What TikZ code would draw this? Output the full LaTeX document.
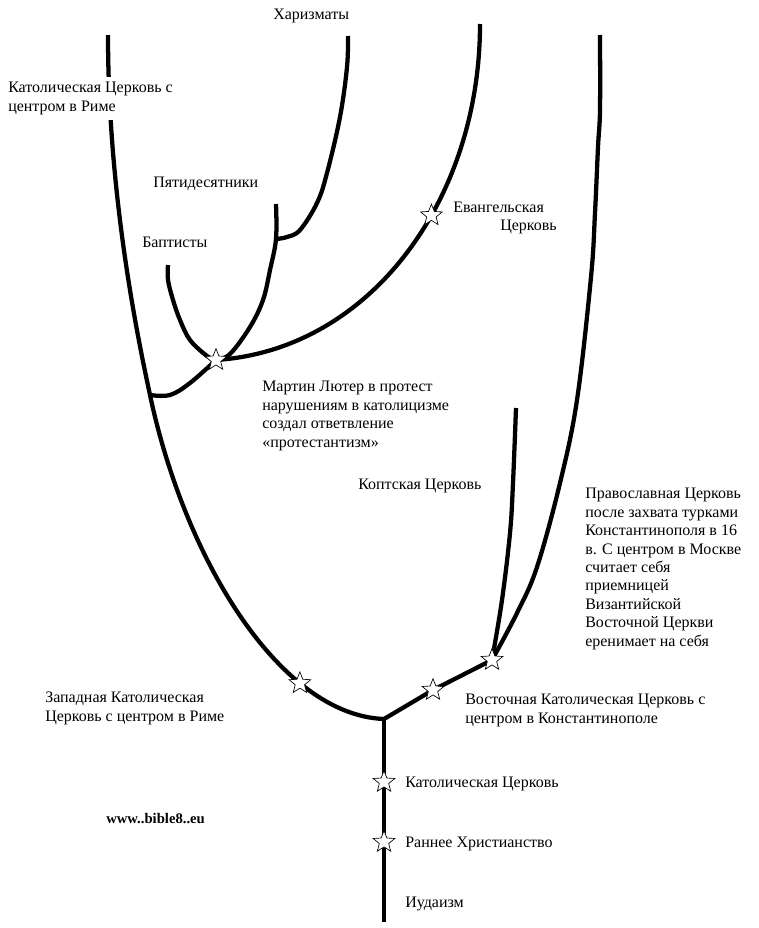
\documentclass[tikz,border=0pt]{standalone}
\usepackage{fontspec}
\setmainfont{Liberation Serif}
\usetikzlibrary{shapes.geometric}

\tikzset{
  branch/.style={line width=3.2pt},
  staricon/.style={star, star points=5, star point ratio=2.3, draw, fill=white,
    line width=0.5pt, inner sep=0pt, minimum size=17pt},
  lbl/.style={anchor=base west, inner sep=0pt, align=left,
    font=\fontsize{12}{13.8}\selectfont},
}

\begin{document}
\begin{tikzpicture}[x=0.75pt, y=-0.75pt]
				\useasboundingbox (0,0) rectangle (758,928);
				
				% points where the branches split
				\coordinate (base) at (384,922);
				\coordinate (root) at (384,719);
				\coordinate (jWest) at (150,395);
				\coordinate (jPent) at (276,239);
				\coordinate (sEarly) at (384,842);
				\coordinate (sCath) at (384,782);
				\coordinate (sEast) at (433,690);
				\coordinate (sOrth) at (492,660);
				\coordinate (sLuther) at (216,360);
				
				% trunk and the east branch
				\draw[branch] (base) -- (sEarly) -- (sCath) -- (root);
				\draw[branch] (root) -- (sEast) -- (sOrth);
				
				% west branch up to Rome
				\draw[branch] (root) .. controls (280,715) and (185,560) .. coordinate[pos=0.28] (sWest) (jWest)
				  .. controls (140,348) and (108,200) .. (108,35);
				
				% coptic and orthodox
				\draw[branch] plot[smooth, tension=0.6] coordinates {(sOrth) (502,600) (510,533) (513,483) (516,408)};
				\draw[branch] plot[smooth, tension=0.6] coordinates {(sOrth) (517,613) (537,567) (560,483) (577,400) (591,277) (595,213) (598,147) (600,110) (600,35)};
				
				% protestant branches
				\draw[branch] plot[smooth, tension=0.6] coordinates {(jWest) (170,395) (190,383) (sLuther)};
				\draw[branch] plot[smooth, tension=0.6] coordinates {(168,265) (168,280) (173,300) (180,320) (190,340) (207,356) (sLuther)};
				\draw[branch] plot[smooth, tension=0.6] coordinates {(sLuther) (230,354) (250,327) (263,300) (270,270) (jPent) (276,204)};
				\draw[branch] plot[smooth, tension=0.6] coordinates {(jPent) (287,237) (300,230) (317,203) (327,173) (340,117) (347,67) (348,36)};
				\draw[branch] (sLuther) .. controls (370,350) and (480,200) .. coordinate[pos=0.6] (sEvang) (480,24);
				
				% stars
				\foreach \s in {sEarly,sCath,sWest,sEast,sOrth,sLuther,sEvang}
				  \node[staricon] (\s-icon) at (\s) {};
				
				% labels (base = last line)
				\node[lbl, fill=white, inner ysep=4pt] (lRome) at (8,111) {Католическая Церковь с\\центром в Риме};
				\node[lbl] (lChar) at (273,19) {Харизматы};
				\node[lbl] (lPent) at (153,187) {Пятидесятники};
				\node[lbl] (lBapt) at (142,247) {Баптисты};
				\node[lbl] (lEvang) at (453,212) {Евангельская};
				\node[lbl] (lEvang2) at (500,230) {Церковь};
				\node[lbl] (lLuther) at (262,447) {Мартин Лютер в протест\\нарушениям в католицизме\\создал ответвление\\«протестантизм»};
				\node[lbl] (lCopt) at (358,489) {Коптская Церковь};
				\node[lbl] (lOrth) at (585,646) {Православная Церковь\\после захвата турками\\Константинополя в 16\\в. С центром в Москве\\считает себя\\приемницей\\Византийской\\Восточной Церкви\\еренимает на себя};
				\node[lbl] (lEast) at (465,723) {Восточная Католическая Церковь с\\центром в Константинополе};
				\node[lbl] (lWest) at (45,721) {Западная Католическая\\Церковь с центром в Риме};
				\node[lbl] (lCath) at (405,787) {Католическая Церковь};
				\node[lbl] (lEarly) at (405,847) {Раннее Христианство};
				\node[lbl] (lJud) at (405,907) {Иудаизм};
				\node[anchor=base west, inner sep=0pt, font=\fontsize{11}{12}\selectfont\bfseries] (lWeb) at (106,823) {www..bible8..eu};
			\end{tikzpicture}
\end{document}
